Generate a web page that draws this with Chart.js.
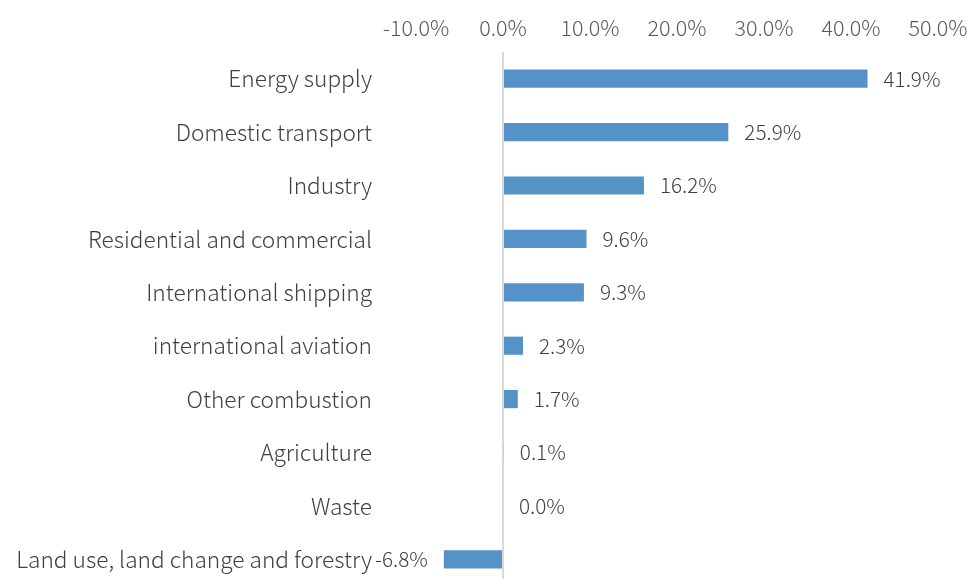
<!DOCTYPE html>
<html>
<head>
<meta charset="utf-8">
<script src="https://cdn.jsdelivr.net/npm/chart.js@4"></script>
<style>
    html, body { margin: 0; padding: 0; background: #fff; overflow: hidden; }
    canvas { display: block; }
</style>
</head>
<body>
<canvas id="chart" width="967" height="590"></canvas>
<script>
// sectors and their share (%)
const sectors = [
    "Energy supply",
    "Domestic transport",
    "Industry",
    "Residential and commercial",
    "International shipping",
    "international aviation",
    "Other combustion",
    "Agriculture",
    "Waste",
    "Land use, land change and forestry",
];
const shares = [41.9, 25.9, 16.2, 9.6, 9.3, 2.3, 1.7, 0.1, 0.0, -6.8];
const axisMin = -10;
const axisMax = 50;

const FONT = "'Noto Sans CJK SC', 'Noto Sans', sans-serif";

// draws the value labels at the bar ends (no datalabels plugin available)
const barLabels = {
    id: "barLabels",
    afterDatasetsDraw(chart) {
        const ctx = chart.ctx;
        const meta = chart.getDatasetMeta(0);
        ctx.save();
        ctx.font = "300 20.7px " + FONT;
        ctx.fillStyle = "#404040";
        ctx.textBaseline = "middle";
        meta.data.forEach((bar, i) => {
            const v = shares[i];
            const txt = v.toFixed(1) + "%";
            if (v < 0) {
                ctx.textAlign = "right";
                ctx.fillText(txt, bar.x - 16, bar.y);
            } else {
                ctx.textAlign = "left";
                ctx.fillText(txt, bar.x + 16, bar.y);
            }
        });
        ctx.restore();
    },
};

new Chart(document.getElementById("chart"), {
    type: "bar",
    data: {
        labels: sectors,
        datasets: [{
            data: shares,
            backgroundColor: "#5592C7",
            borderWidth: 0,
            categoryPercentage: 1,
            barPercentage: 0.34,
        }],
    },
    options: {
        indexAxis: "y",
        responsive: false,
        animation: false,
        layout: { padding: { top: 0, right: 29, bottom: 4, left: 0 } },
        plugins: {
            legend: { display: false },
            tooltip: { enabled: false },
        },
        scales: {
            x: {
                position: "top",
                min: axisMin,
                max: axisMax,
                ticks: {
                    stepSize: 10,
                    padding: 11,
                    color: "#595959",
                    font: { size: 21.5, family: FONT, weight: 300 },
                    callback: (v) => v.toFixed(1) + "%",
                },
                grid: {
                    drawTicks: false,
                    lineWidth: 2,
                    color: (c) => (c.tick && c.tick.value === 0 ? "#d9d9d9" : "rgba(0,0,0,0)"),
                },
                border: { display: false },
                afterFit: (scale) => {
                    scale.height = 52;
                    scale.paddingLeft = 0;
                    scale.paddingRight = 0;
                },
            },
            y: {
                ticks: {
                    padding: 44,
                    color: "#404040",
                    font: { size: 22.7, family: FONT, weight: 300 },
                },
                grid: { display: false, drawTicks: false },
                border: { display: false },
                afterFit: (scale) => {
                    scale.width = 416;
                    scale.paddingTop = 0;
                    scale.paddingBottom = 0;
                },
            },
        },
    },
    plugins: [barLabels],
});
</script>
</body>
</html>
